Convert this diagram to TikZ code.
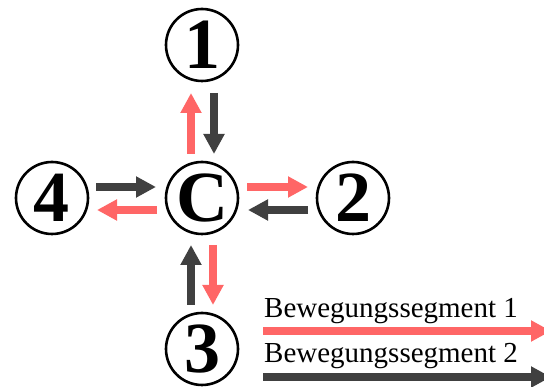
\documentclass[tikz,border=0pt]{standalone}
\usepackage{fontspec}
\setmainfont{Liberation Serif}
\usetikzlibrary{arrows.meta,calc}
\definecolor{segred}{RGB}{255,102,102}
\definecolor{segdark}{RGB}{64,64,64}
\tikzset{
  station/.style={circle,draw=black,line width=2.6pt,minimum size=72pt,inner sep=0pt,
    font=\fontsize{72}{72}\selectfont\bfseries},
  segarrow/.style={line width=8.5pt,-{Triangle[length=20pt,width=20pt]}},
  segone/.style={segarrow,draw=segred},
  segtwo/.style={segarrow,draw=segdark},
  legendtext/.style={font=\fontsize{29}{29}\selectfont,inner sep=0pt,anchor=base west}
}
\begin{document}
\begin{tikzpicture}[x=1pt,y=1pt]
\useasboundingbox (0,0) rectangle (544,387);
\node[station] (n1) at (202,342) {1};
\node[station] (nC) at (202,189) {C};
\node[station] (n4) at (52,189) {4};
\node[station] (n2) at (353,189) {2};
\node[station] (n3) at (202,38) {3};
% 1 <-> C
\draw[segone] ($(nC)+(-11,44)$) -- ($(n1)+(-11,-48)$);
\draw[segtwo] ($(n1)+(12,-48)$) -- ($(nC)+(12,44)$);
% C <-> 3
\draw[segtwo] ($(n3)+(-11,44)$) -- ($(nC)+(-11,-47)$);
\draw[segone] ($(nC)+(11,-47)$) -- ($(n3)+(11,44)$);
% 4 <-> C
\draw[segtwo] ($(n4)+(44,11)$) -- ($(nC)+(-46,11)$);
\draw[segone] ($(nC)+(-45,-12)$) -- ($(n4)+(45,-12)$);
% C <-> 2
\draw[segone] ($(nC)+(45,11)$) -- ($(n2)+(-45,11)$);
\draw[segtwo] ($(n2)+(-45,-12)$) -- ($(nC)+(46,-12)$);
% legend
\coordinate (l1s) at (263,56);
\coordinate (l1e) at (551,56);
\coordinate (l2s) at (263,10);
\coordinate (l2e) at (551,10);
\draw[segone] (l1s) -- (l1e);
\draw[segtwo] (l2s) -- (l2e);
\node[legendtext] (t1) at (264,69) {Bewegungssegment 1};
\node[legendtext] (t2) at (264,24) {Bewegungssegment 2};
\end{tikzpicture}
\end{document}
